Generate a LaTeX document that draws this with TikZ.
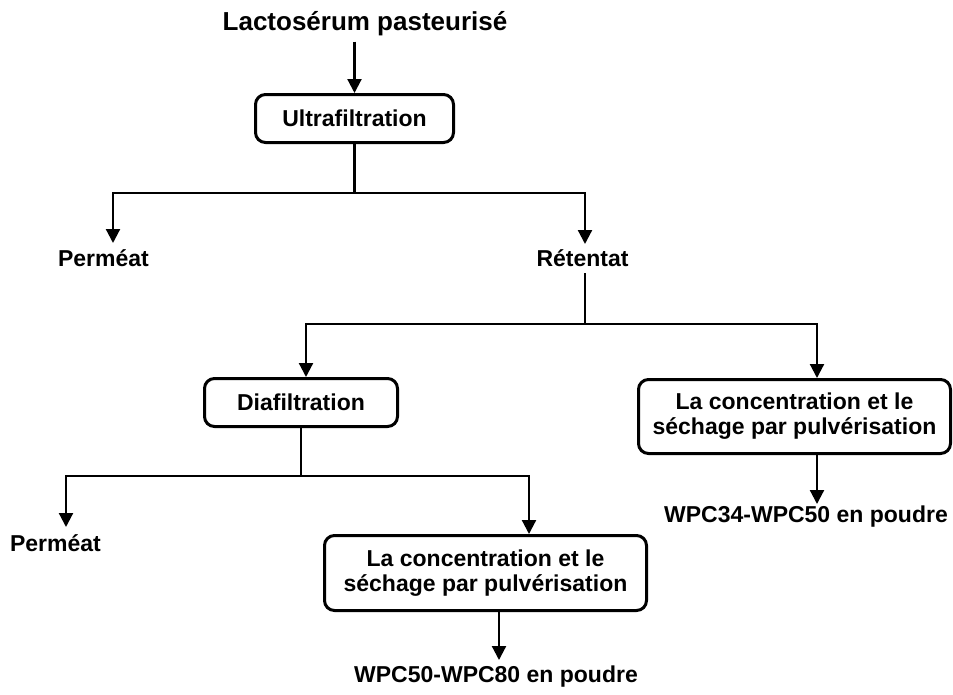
\documentclass[tikz,border=0pt]{standalone}
\usepackage{fontspec}
\setmainfont{Liberation Sans}
\usetikzlibrary{arrows.meta}
\begin{document}
\begin{tikzpicture}[x=1pt,y=-1pt,
  lbl/.style={font=\fontsize{23}{25}\selectfont\bfseries, inner sep=0pt},
  stage/.style={draw, line width=3pt, rounded corners=10pt, align=center,
                font=\fontsize{23}{25}\selectfont\bfseries, inner sep=0pt},
  link/.style={line width=2.2pt},
  arr/.style={link, -{Triangle[width=14pt,length=14pt]}}]
\useasboundingbox (0,0) rectangle (953,694);
\fill[white] (0,0) rectangle (953,694);

% source and first separation
\node[lbl, font=\fontsize{26}{28}\selectfont\bfseries, anchor=base] (src) at (365,30) {Lactosérum pasteurisé};
\node[stage, minimum width=198pt, minimum height=48pt] (uf) at (354.5,118.5) {Ultrafiltration};
\draw[arr] ([yshift=-6pt]src.south -| uf.north) -- (uf.north);

\node[lbl, anchor=base] (p1) at (103.5,266) {Perméat};
\node[lbl, anchor=base] (r1) at (582.5,266) {Rétentat};
\coordinate (j1) at (354.5,193);
\coordinate (p1in) at (113,243);
\coordinate (r1in) at (585,244);
\draw[link] (uf.south) -- (j1);
\draw[arr] (j1) -| (p1in);
\draw[arr] (j1) -| (r1in);

% retentate branches
\node[stage, minimum width=193pt, minimum height=48pt] (dia) at (301,402.5) {Diafiltration};
\node[stage, minimum width=312pt, minimum height=74pt] (c1) at (794.5,416.5) {La concentration et le\\séchage par pulvérisation};
\coordinate (r1out) at (585,273);
\coordinate (j2) at (585,324);
\draw[link] (r1out) -- (j2);
\draw[arr] (j2) -| ([xshift=5pt]dia.north);
\draw[arr] (j2) -| ([xshift=22.5pt]c1.north);

\node[lbl, anchor=base] (w1) at (806,522) {WPC34-WPC50 en poudre};
\coordinate (w1in) at (817,504);
\draw[arr] ([xshift=22.5pt]c1.south) -- (w1in);

% diafiltration branches
\node[lbl, anchor=base] (p2) at (55.5,551) {Perméat};
\node[stage, minimum width=322pt, minimum height=75pt] (c2) at (485.5,573) {La concentration et le\\séchage par pulvérisation};
\coordinate (j3) at (301,476);
\coordinate (p2in) at (66,527);
\draw[link] (dia.south) -- (j3);
\draw[arr] (j3) -| (p2in);
\draw[arr] (j3) -| ([xshift=43.5pt]c2.north);

\node[lbl, anchor=base] (w2) at (496,682) {WPC50-WPC80 en poudre};
\coordinate (w2in) at (499,660);
\draw[arr] ([xshift=13.5pt]c2.south) -- (w2in);
\end{tikzpicture}
\end{document}
